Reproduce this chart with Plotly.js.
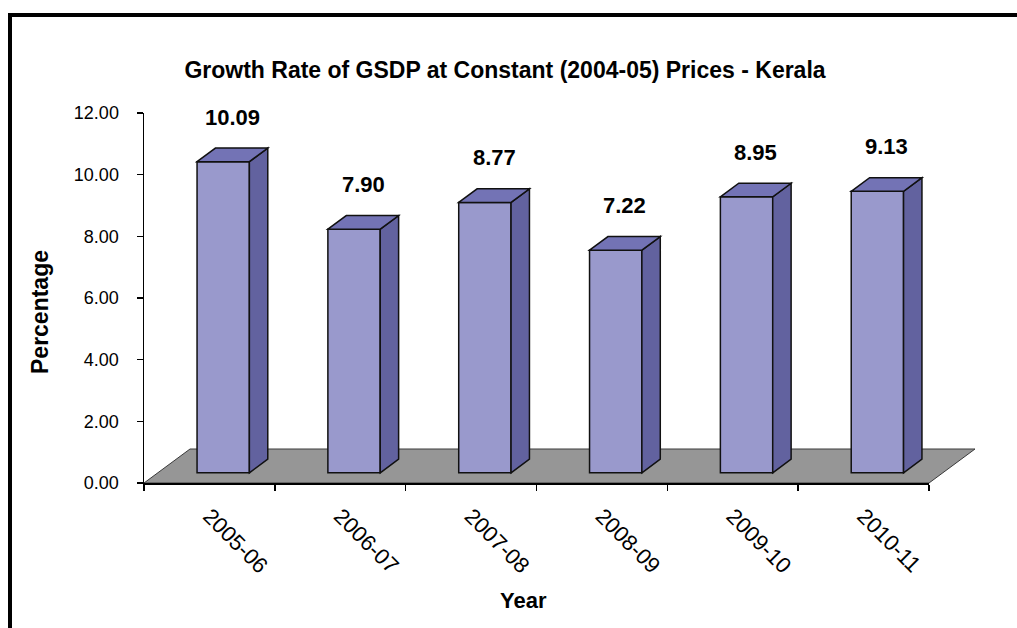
<!DOCTYPE html>
<html><head><meta charset="utf-8">
<script src="https://cdn.plot.ly/plotly-3.0.1.min.js"></script>
<style>html,body{margin:0;padding:0;background:#fff;}#chart{width:1017px;height:628px;}</style>
</head><body><div id="chart"></div>
<script>
// ---- data ----
const years = ['2005-06', '2006-07', '2007-08', '2008-09', '2009-10', '2010-11'];
const growth = [10.09, 7.90, 8.77, 7.22, 8.95, 9.13];
const yTicks = [0, 2, 4, 6, 8, 10, 12];

// ---- geometry / style ----
const W = 1017, H = 628;
const M = {l: 144, r: 88, t: 113, b: 145};
const plotW = W - M.l - M.r, plotH = H - M.t - M.b;
const yMax = 12;
const pxPerCat = plotW / years.length, pxPerUnit = plotH / yMax;
const floorDx = 46, floorDy = 34;            // pseudo-3D floor depth (px)
const frontFrac = 0.3, depthFrac = 0.4, barW = 0.4;
const shiftX = frontFrac * floorDx / pxPerCat, shiftY = frontFrac * floorDy / pxPerUnit;
const dX = depthFrac * floorDx / pxPerCat, dY = depthFrac * floorDy / pxPerUnit;
const off = -barW / 2 + shiftX;
const FONT = 'Arial, "Liberation Sans", sans-serif';
const cFront = '#9999CC', cSide = '#62629F', cTop = '#7373B5', cFloor = '#969696';
const px2px = x => (x - M.l) / plotW;        // pixel -> paper x
const py2py = y => (M.t + plotH - y) / plotH; // pixel -> paper y

const shapes = [];
// floor
const fx = floorDx / plotW, fy = floorDy / plotH;
shapes.push({type: 'path', xref: 'paper', yref: 'paper', layer: 'below',
  path: `M 0,0 L 1,0 L ${1 + fx},${fy} L ${fx},${fy} Z`,
  fillcolor: cFloor, line: {color: '#3a3a3a', width: 1}});
// side + top faces of each bar
growth.forEach((v, i) => {
  const xl = i + off, xr = i + off + barW, y0 = shiftY, y1 = shiftY + v;
  shapes.push({type: 'path', xref: 'x', yref: 'y', layer: 'above',
    path: `M ${xr},${y0} L ${xr + dX},${y0 + dY} L ${xr + dX},${y1 + dY} L ${xr},${y1} Z`,
    fillcolor: cSide, line: {color: '#111', width: 1.5}});
  shapes.push({type: 'path', xref: 'x', yref: 'y', layer: 'above',
    path: `M ${xl},${y1} L ${xl + dX},${y1 + dY} L ${xr + dX},${y1 + dY} L ${xr},${y1} Z`,
    fillcolor: cTop, line: {color: '#111', width: 1.5}});
});
// outer frame (only top and left edges fall inside the picture)
shapes.push({type: 'rect', xref: 'paper', yref: 'paper', layer: 'above',
  x0: px2px(10), x1: px2px(W + 30), y0: py2py(H + 30), y1: py2py(15),
  line: {color: '#000', width: 4}, fillcolor: 'rgba(0,0,0,0)'});

const annotations = growth.map((v, i) => ({
  x: i + off + barW / 2 + dX / 2, y: shiftY + v + dY, xref: 'x', yref: 'y',
  text: '<b>' + v.toFixed(2) + '</b>', showarrow: false, yanchor: 'middle', yshift: 31,
  font: {family: FONT, size: 22, color: '#000'}
}));
annotations.push({xref: 'paper', yref: 'paper', x: px2px(523), y: py2py(600),
  text: '<b>Year</b>', showarrow: false, xanchor: 'center', yanchor: 'middle',
  font: {family: FONT, size: 22, color: '#000'}});
annotations.push({xref: 'paper', yref: 'paper', x: px2px(40), y: py2py(312),
  text: '<b>Percentage</b>', showarrow: false, textangle: -90, xanchor: 'center', yanchor: 'middle',
  font: {family: FONT, size: 23, color: '#000'}});

const trace = {
  type: 'bar', x: years, y: growth, base: growth.map(() => shiftY),
  width: barW, offset: off,
  marker: {color: cFront, line: {color: '#111', width: 1.5}},
  hoverinfo: 'x+text', hovertext: growth.map(v => v.toFixed(2))
};

const layout = {
  width: W, height: H, margin: M, showlegend: false,
  paper_bgcolor: '#fff', plot_bgcolor: 'rgba(0,0,0,0)',
  font: {family: FONT, color: '#000'},
  title: {text: '<b>Growth Rate of GSDP at Constant (2004-05) Prices - Kerala</b>',
    font: {family: FONT, size: 23, color: '#000'},
    xref: 'container', yref: 'container', x: 505 / W, y: 1 - 70 / H, xanchor: 'center', yanchor: 'middle'},
  xaxis: {type: 'category', range: [-0.5, years.length - 0.5], tickson: 'boundaries',
    ticks: 'outside', ticklen: 6, tickwidth: 1.5, tickcolor: '#000',
    showline: true, linecolor: '#000', linewidth: 1.5, showgrid: false, zeroline: false,
    ticklabelstandoff: 10,
    tickangle: 45, tickfont: {family: FONT, size: 22, color: '#000'}, fixedrange: true},
  yaxis: {range: [0, yMax], tickvals: yTicks, tickformat: '.2f',
    ticks: 'outside', ticklen: 6, tickwidth: 1.5, tickcolor: '#000',
    showline: true, linecolor: '#000', linewidth: 1.5, showgrid: false, zeroline: false,
    ticklabelstandoff: 14, tickfont: {family: FONT, size: 18, color: '#000'}, fixedrange: true},
  shapes, annotations
};

Plotly.newPlot('chart', [trace], layout, {displayModeBar: false, staticPlot: true});
</script></body></html>
